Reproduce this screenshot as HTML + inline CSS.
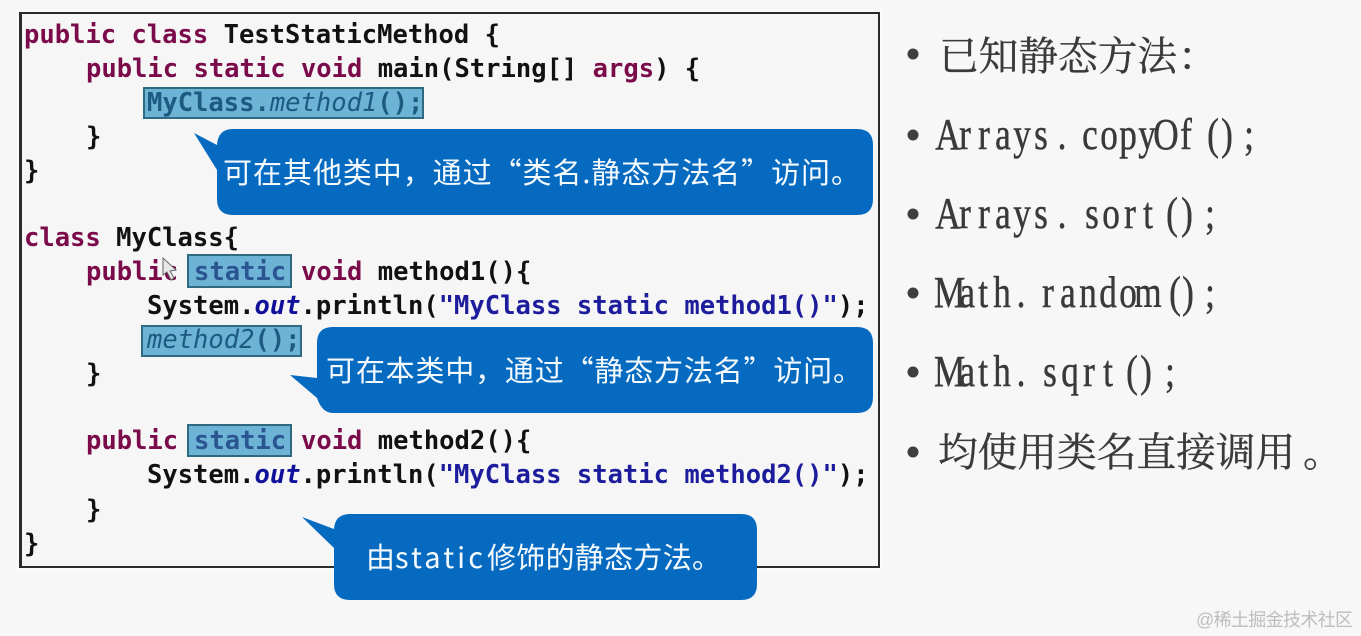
<!DOCTYPE html>
<html><head><meta charset="utf-8"><style>
html,body{margin:0;padding:0;background:#f7f7f7;width:1361px;height:636px;overflow:hidden}
svg{display:block}
.c{font-family:"DejaVu Sans Mono","Liberation Mono",monospace;font-weight:700;font-size:25.5px;fill:#111;white-space:pre}
.k{fill:#7a0a4a}.s{fill:#1c1c9c}.o{fill:#10109a;font-style:italic}.h{fill:#1d5a80}.i{font-style:italic;font-weight:400}
.st{fill:#2a5590}
.w{font-family:"Noto Sans CJK SC","Liberation Sans",sans-serif;font-size:29px;fill:#f4fafe}
.r{font-family:"Liberation Serif",serif;font-size:44px;fill:#3a3a3a;text-anchor:middle;stroke:#3a3a3a;stroke-width:.5}
.z{font-family:"Noto Serif CJK SC","Liberation Serif",serif;font-size:39.7px;fill:#3a3a3a;stroke:#3a3a3a;stroke-width:.35}
</style></head><body>
<svg width="1361" height="636" viewBox="0 0 1361 636" xmlns="http://www.w3.org/2000/svg">
<rect width="1361" height="636" fill="#f7f7f7"/>
<rect x="17" y="10" width="865" height="561" fill="#fbfbfb"/>
<rect x="20" y="13" width="859" height="554" fill="#f6f6f6" stroke="#2b2b2b" stroke-width="2"/>
<line x1="20.5" y1="13" x2="20.5" y2="567" stroke="#2b2b2b" stroke-width="3"/>

<g stroke="#2f6a80" stroke-width="2" fill="#6db3d6">
<rect x="144" y="88" width="279" height="30"/>
<rect x="188" y="255" width="103" height="32"/>
<rect x="142" y="326" width="159" height="30"/>
<rect x="188" y="425" width="103" height="31"/>
</g>

<text class="c" x="24" y="43"><tspan class="k">public class</tspan> TestStaticMethod {</text>
<text class="c" x="86" y="77"><tspan class="k">public static void</tspan> main(String[] <tspan class="k">args</tspan>) {</text>
<text class="c h" x="147" y="111">MyClass.<tspan class="i">method1</tspan>();</text>
<text class="c" x="86" y="145">}</text>
<text class="c" x="24" y="179">}</text>
<text class="c" x="24" y="246"><tspan class="k">class</tspan> MyClass{</text>
<text class="c" x="86" y="280"><tspan class="k">public</tspan></text>
<text class="c st" x="194" y="280">static</text>
<text class="c" x="301" y="280"><tspan class="k">void</tspan> method1(){</text>
<text class="c" x="147" y="314">System.<tspan class="o">out</tspan>.println(<tspan class="s">"MyClass static method1()"</tspan>);</text>
<text class="c h" x="147" y="348"><tspan class="i">method2</tspan>();</text>
<text class="c" x="86" y="382">}</text>
<text class="c" x="86" y="449"><tspan class="k">public</tspan></text>
<text class="c st" x="194" y="449">static</text>
<text class="c" x="301" y="449"><tspan class="k">void</tspan> method2(){</text>
<text class="c" x="147" y="483">System.<tspan class="o">out</tspan>.println(<tspan class="s">"MyClass static method2()"</tspan>);</text>
<text class="c" x="86" y="518">}</text>
<text class="c" x="24" y="552">}</text>

<path d="M163 258 L163 275 L167 272 L171 280 L174 278 L170 271 L176 270 Z" fill="#e8e8e8" stroke="#666" stroke-width="1"/>

<g fill="#066bc0">
<path d="M194 133 L217 145 Q218 129 233 129 L857 129 Q873 129 873 145 L873 199 Q873 215 857 215 L233 215 Q217 215 217 199 L217 170 Z"/>
<path d="M290 375 L317 378 L317 343 Q317 327 333 327 L857 327 Q873 327 873 343 L873 397 Q873 413 857 413 L333 413 Q322 413 317 398 Z"/>
<path d="M302 517 L334 529 Q335 514 350 514 L741 514 Q757 514 757 530 L757 584 Q757 600 741 600 L350 600 Q334 600 334 584 L334 548 Z"/>
</g>
<text class="w" x="223" y="183" textLength="637" lengthAdjust="spacing">可在其他类中，通过“类名.静态方法名”访问。</text>
<text class="w" x="326" y="381" textLength="536" lengthAdjust="spacing">可在本类中，通过“静态方法名”访问。</text>
<text class="w" x="366" y="568">由</text>
<text class="w" x="395" y="568" textLength="88" lengthAdjust="spacing">static</text>
<text class="w" x="487" y="568" textLength="234" lengthAdjust="spacing">修饰的静态方法。</text>

<g fill="#3f3f3f">
<circle cx="913" cy="54" r="5.5"/><circle cx="913" cy="135" r="5.5"/><circle cx="913" cy="214" r="5.5"/>
<circle cx="913" cy="293" r="5.5"/><circle cx="913" cy="372" r="5.5"/><circle cx="913" cy="452" r="5.5"/>
</g>
<text class="z" x="939" y="70">已知静态方法</text>
<text class="z" x="1178" y="70">：</text>
<g transform="scale(.8,1)">
<text class="r" y="149" x="1185 1206.25 1230 1253.75 1277.5 1301.25 1327.5 1350 1362.5 1386.25 1410 1433.75 1457.5 1482.5 1516.25 1533.75 1561.25">Arrays. copyOf();</text>
<text class="r" y="228" x="1185 1206.25 1230 1253.75 1277.5 1301.25 1327.5 1350 1365 1388.75 1412.5 1435 1465 1483.75 1512.5">Arrays. sort();</text>
<text class="r" y="307" x="1187 1209 1229 1252.5 1276.25 1295 1310 1335 1360 1385 1410 1435 1468.75 1485 1512.5">Math. random();</text>
<text class="r" y="386" x="1187 1209 1229 1252.5 1276.25 1295 1312.5 1337.5 1361.25 1385 1415 1432.5 1462.5">Math. sqrt();</text>
</g>
<text class="z" x="938" y="466">均使用类名直接调用</text>
<text class="z" x="1303" y="466">。</text>
<text x="1196" y="626" textLength="157" lengthAdjust="spacing" font-size="18" fill="#bdbdbd" font-family="'Liberation Sans','Noto Sans CJK SC',sans-serif">@稀土掘金技术社区</text>
</svg>
</body></html>
